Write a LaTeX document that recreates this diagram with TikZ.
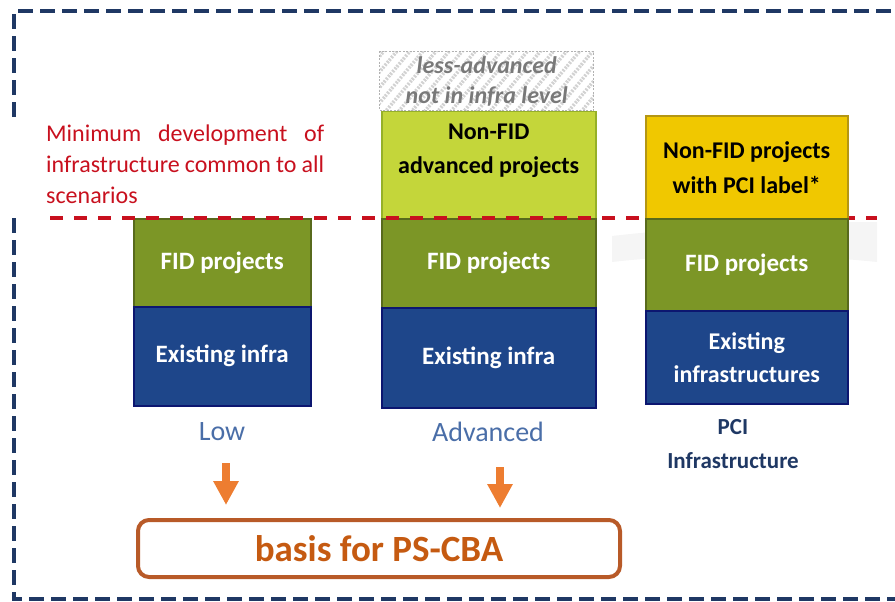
\documentclass[tikz,border=0pt]{standalone}
\usepackage{fontspec}
\setmainfont{Carlito}
\usetikzlibrary{arrows.meta, patterns.meta}

\definecolor{framenavy}{RGB}{31,56,100}
\definecolor{minred}{RGB}{200,16,30}
\definecolor{fidgreen}{RGB}{124,150,38}
\definecolor{fidedge}{RGB}{88,106,28}
\definecolor{limegreen}{RGB}{196,214,58}
\definecolor{limeedge}{RGB}{150,176,40}
\definecolor{pciyellow}{RGB}{240,200,0}
\definecolor{pciedge}{RGB}{180,150,20}
\definecolor{infrablue}{RGB}{30,70,138}
\definecolor{infraedge}{RGB}{12,22,112}
\definecolor{scenblue}{RGB}{74,110,168}
\definecolor{arroworange}{RGB}{237,125,49}
\definecolor{basisedge}{RGB}{184,90,40}
\definecolor{basisorange}{RGB}{197,90,17}

\begin{document}
\begin{tikzpicture}[x = 1pt, y = -1pt,
	block/.style = {draw, line width = 1.5pt, anchor = north west, inner sep = 0pt, align = center, font = \fontsize{25}{33}\selectfont\bfseries},
	fidbox/.style = {block, fill = fidgreen, draw = fidedge, text = white},
	infrabox/.style = {block, fill = infrablue, draw = infraedge, text = white},
	nonfidbox/.style = {block, fill = limegreen, draw = limeedge, text = black},
	pcibox/.style = {block, fill = pciyellow, draw = pciedge, text = black},
	hatchbox/.style = {anchor = north west, inner sep = 0pt, align = center, draw = gray!60, dash pattern = on 2pt off 1.5pt, line width = 0.8pt, pattern = {Lines[angle = 50, distance = 10pt, line width = 3.5pt]}, pattern color = gray!35, text = gray!95!black, font = \fontsize{24}{30}\selectfont\bfseries\itshape},
	scenlabel/.style = {inner sep = 0pt, text = scenblue, font = \fontsize{28}{34}\selectfont},
	frame/.style = {framenavy, line width = 4pt, dash pattern = on 15pt off 7pt},
	minline/.style = {minred, line width = 3.5pt, dash pattern = on 13pt off 11pt},
	downarrow/.style = {arroworange, line width = 8pt, -{Triangle[width = 24pt, length = 24pt]}}
]

	% Definitions

	\def\L{218}

	\useasboundingbox (0, 0) rectangle (895, 602);

	% Frame

	\draw [frame] (14, 117) -- (14, 11) -- (895, 11);
	\draw [frame] (14, \L) -- (14, 599) -- (895, 599);

	% Faint band behind the PCI column

	\fill [gray!8] (612, 236) .. controls (700, 226) and (800, 222) .. (877, 222) -- (877, 262) .. controls (800, 254) and (700, 252) .. (612, 262) -- cycle;

	% Minimum level text

	\node [anchor = north west, inner sep = 0pt, text width = 278pt, align = justify, text = minred, font = \fontsize{24}{31}\selectfont] (mintext) at (46, 125) {Minimum development of\linebreak infrastructure common to all\linebreak scenarios};

	% Low

	\node [fidbox, minimum width = 177pt, minimum height = 88pt] (lowfid) at (133, \L) {FID projects};
	\node [infrabox, minimum width = 177pt, minimum height = 99pt] (lowexist) at (133, 306) {Existing infra};
	\node [scenlabel] (lowlabel) at (222, 432) {Low};

	% Advanced

	\node [hatchbox, minimum width = 214pt, minimum height = 59pt] (advhatch) at (378, 50) {less-advanced\\not in infra level};
	\node [nonfidbox, minimum width = 214pt, minimum height = 107pt, text depth = 33pt, font = \fontsize{24}{34}\selectfont\bfseries] (advnonfid) at (381, 111) {Non-FID\\advanced projects};
	\node [fidbox, minimum width = 214pt, minimum height = 89pt] (advfid) at (381, \L) {FID projects};
	\node [infrabox, minimum width = 214pt, minimum height = 100pt] (advexist) at (381, 307) {Existing infra};
	\node [scenlabel] (advlabel) at (488, 432) {Advanced};

	% Minimum level line

	\draw [minline] (50, \L) -- (877, \L);

	% PCI

	\node [pcibox, minimum width = 202pt, minimum height = 103pt, font = \fontsize{24}{35}\selectfont\bfseries] (pcinonfid) at (645, 115) {Non-FID projects\\with PCI label*};
	\node [fidbox, minimum width = 202pt, minimum height = 92pt] (pcifid) at (645, \L) {FID projects};
	\node [infrabox, minimum width = 202pt, minimum height = 93pt, font = \fontsize{24}{33}\selectfont\bfseries] (pciexist) at (645, 310) {Existing\\infrastructures};
	\node [inner sep = 0pt, align = center, text = framenavy, font = \fontsize{23}{34}\selectfont\bfseries] (pcilabel) at (733, 444) {PCI\\Infrastructure};

	% Basis box + arrows

	\node [draw = basisedge, line width = 4pt, rounded corners = 11pt, minimum width = 482pt, minimum height = 57pt, text = basisorange, font = \fontsize{37}{44}\selectfont\bfseries] (basis) at (379, 548.5) {basis for PS-CBA};

	\coordinate (lowtail) at (226, 463);
	\coordinate (lowtip) at (226, 505);
	\coordinate (advtail) at (500, 467);
	\coordinate (advtip) at (500, 508);

	\draw [downarrow] (lowtail) -- (lowtip);
	\draw [downarrow] (advtail) -- (advtip);

\end{tikzpicture}
\end{document}
